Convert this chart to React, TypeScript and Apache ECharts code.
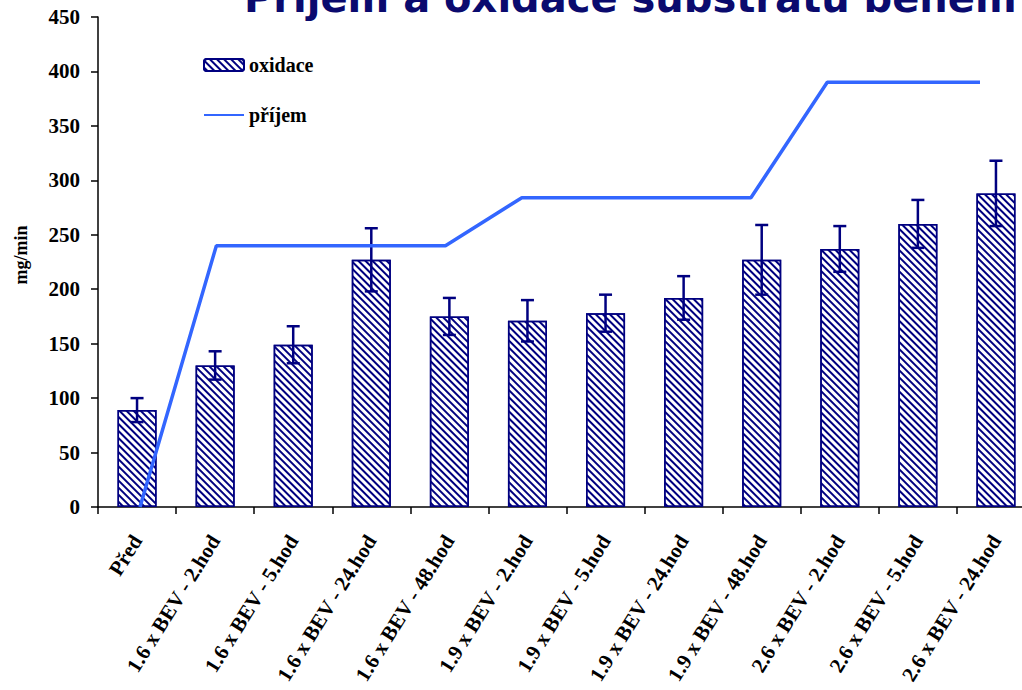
import React, { useEffect, useRef } from "react";
import * as echarts from "echarts";

const categories = [
  "Před",
  "1.6 x BEV - 2.hod",
  "1.6 x BEV - 5.hod",
  "1.6 x BEV - 24.hod",
  "1.6 x BEV - 48.hod",
  "1.9 x BEV - 2.hod",
  "1.9 x BEV - 5.hod",
  "1.9 x BEV - 24.hod",
  "1.9 x BEV - 48.hod",
  "2.6 x BEV - 2.hod",
  "2.6 x BEV - 5.hod",
  "2.6 x BEV - 24.hod",
];
const oxidace = [89, 130, 149, 227, 175, 171, 178, 192, 227, 237, 260, 288];
const oxidaceErr = [11, 13, 17, 29, 17, 19, 17, 20, 32, 21, 22, 30];
const prijem = [0, 240, 240, 240, 240, 284, 284, 284, 284, 390, 390, 390];
const yTicks = [0, 50, 100, 150, 200, 250, 300, 350, 400, 450];

const NAVY = "#000080";
const SERIF = "'Liberation Serif', 'Times New Roman', serif";
const CHART_W = 1040;

export default function App() {
  const ref = useRef<HTMLDivElement>(null);
  useEffect(() => {
    if (!ref.current) return;
    const chart = echarts.init(ref.current, undefined, { renderer: "svg" });
    const errData = oxidace.map((v, i) => [i, v - oxidaceErr[i], v + oxidaceErr[i]]);
    const decal = {
      symbol: "rect",
      symbolSize: 1,
      dashArrayX: [1, 0],
      dashArrayY: [2, 3],
      rotation: Math.PI / 4,
      color: NAVY,
      backgroundColor: "#ffffff",
    };
    chart.setOption({
      animation: false,
      backgroundColor: "#ffffff",
      graphic: [
        {
          type: "text",
          left: 244,
          top: -22,
          style: {
            text: "Příjem a oxidace substrátu během",
            fontSize: 40,
            fontWeight: "bold",
            fontFamily: "'DejaVu Sans', Tahoma, sans-serif",
            fill: "#0a0a6e",
          },
          z: 100,
        },
      ],
      legend: {
        orient: "vertical",
        left: 198,
        top: 50,
        itemWidth: 40,
        itemHeight: 12,
        itemGap: 30,
        data: [
          { name: "oxidace" },
          { name: "příjem", itemStyle: { opacity: 0 } },
        ],
        textStyle: { fontFamily: SERIF, fontWeight: "bold", fontSize: 20, color: "#000" },
      },
      grid: [
        { left: 98, right: CHART_W - 1035, top: 17, bottom: 183, containLabel: false },
        { left: 140, right: CHART_W - 980, top: 17, bottom: 183, containLabel: false },
      ],
      xAxis: [
        {
          type: "category",
          gridIndex: 0,
          data: categories,
          axisLine: { lineStyle: { color: "#000", width: 1.5 } },
          axisTick: { show: true, length: 7, lineStyle: { color: "#000", width: 1.5 } },
          axisLabel: {
            rotate: 58,
            interval: 0,
            margin: 30,
            fontFamily: SERIF,
            fontWeight: "bold",
            fontSize: 21,
            color: "#000",
          },
        },
        {
          type: "category",
          gridIndex: 1,
          data: categories,
          boundaryGap: false,
          show: false,
        },
      ],
      yAxis: [
        {
          type: "value",
          gridIndex: 0,
          min: 0,
          max: 450,
          interval: 50,
          name: "mg/min",
          nameLocation: "middle",
          nameRotate: 90,
          nameGap: 68,
          nameTextStyle: {
            fontFamily: SERIF,
            fontWeight: "bold",
            fontSize: 18,
            color: "#000",
            padding: [0, 0, 0, 14],
          },
          axisLine: { show: true, lineStyle: { color: "#000", width: 1.5 } },
          axisTick: { show: true, length: 7, lineStyle: { color: "#000", width: 1.5 } },
          splitLine: { show: false },
          axisLabel: {
            margin: 18,
            fontFamily: SERIF,
            fontWeight: "bold",
            fontSize: 21,
            color: "#000",
            formatter: (v: number) => (yTicks.includes(v) ? String(v) : ""),
          },
        },
        { type: "value", gridIndex: 1, min: 0, max: 450, show: false },
      ],
      series: [
        {
          name: "oxidace",
          type: "bar",
          xAxisIndex: 0,
          yAxisIndex: 0,
          data: oxidace,
          barWidth: "50%",
          itemStyle: { color: "#ffffff", borderColor: NAVY, borderWidth: 1.5, decal },
          z: 2,
        },
        {
          name: "err",
          type: "custom",
          xAxisIndex: 0,
          yAxisIndex: 0,
          data: errData,
          z: 3,
          renderItem: (params: any, api: any) => {
            const x = api.value(0);
            const lo = api.coord([x, api.value(1)]);
            const hi = api.coord([x, api.value(2)]);
            const cap = 6.5;
            const style = { stroke: NAVY, lineWidth: 2.5 };
            return {
              type: "group",
              children: [
                { type: "line", shape: { x1: lo[0], y1: lo[1], x2: hi[0], y2: hi[1] }, style },
                { type: "line", shape: { x1: hi[0] - cap, y1: hi[1], x2: hi[0] + cap, y2: hi[1] }, style },
                { type: "line", shape: { x1: lo[0] - cap, y1: lo[1], x2: lo[0] + cap, y2: lo[1] }, style },
              ],
            };
          },
        },
        {
          name: "příjem",
          type: "line",
          xAxisIndex: 1,
          yAxisIndex: 1,
          data: prijem,
          symbol: "none",
          lineStyle: { color: "#3366ff", width: 3.5 },
          itemStyle: { color: "#3366ff" },
          z: 5,
        },
      ],
    });
    return () => chart.dispose();
  }, []);
  return (
    <div style={{ position: "absolute", left: 0, top: 0, width: 1022, height: 690, overflow: "hidden" }}>
      <div ref={ref} style={{ width: CHART_W, height: 690 }} />
    </div>
  );
}
